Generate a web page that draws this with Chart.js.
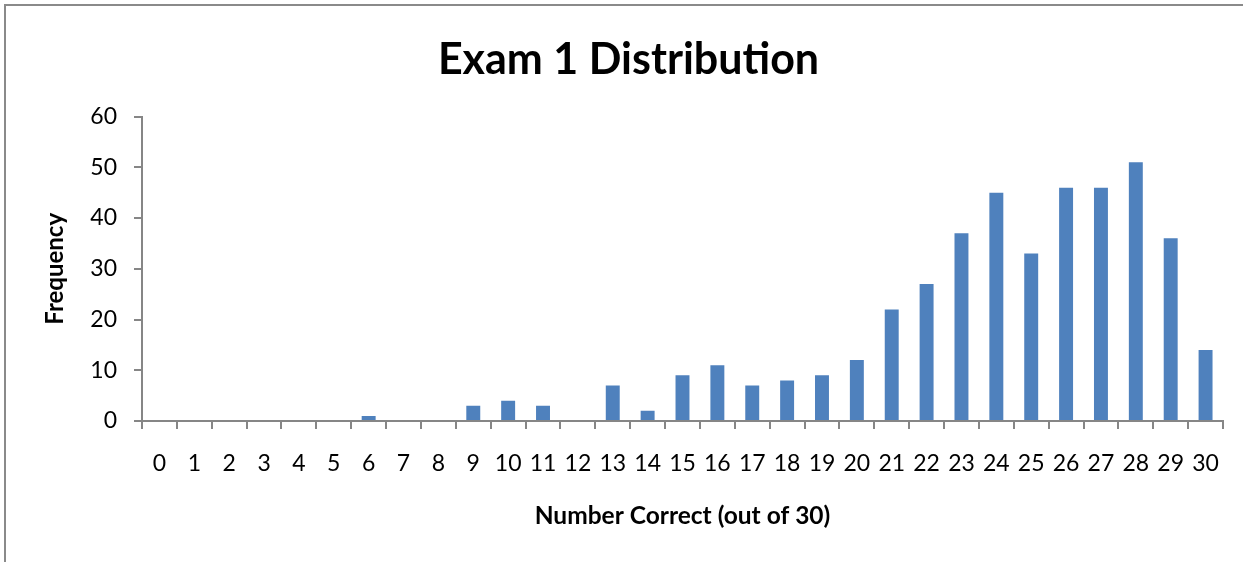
<!DOCTYPE html>
<html>
<head>
<meta charset="utf-8">
<script src="https://cdn.jsdelivr.net/npm/chart.js@4"></script>
<style>
  html, body { margin: 0; padding: 0; background: #fff; overflow: hidden; }
  #frame {
    position: absolute; left: 4px; top: 4px; width: 1300px; height: 600px;
    border-top: 2px solid #8a8a8a; border-left: 2px solid #8a8a8a;
  }
  #wrap { position: absolute; left: 0; top: 0; width: 1243px; height: 562px; }
</style>
</head>
<body>
<div id="frame"></div>
<div id="wrap"><canvas id="examChart" width="1243" height="562"></canvas></div>
<script>
// DATA

const scores = ["0", "1", "2", "3", "4", "5", "6", "7", "8", "9", "10", "11", "12", "13", "14", "15",
  "16", "17", "18", "19", "20", "21", "22", "23", "24", "25", "26", "27", "28", "29", "30"];
const frequency = [0, 0, 0, 0, 0, 0, 1, 0, 0, 3, 4, 3, 0, 7, 2, 9,
  11, 7, 8, 9, 12, 22, 27, 37, 45, 33, 46, 46, 51, 36, 14];
const yTicks = [0, 10, 20, 30, 40, 50, 60];

const axisGray = "#868686";

Chart.defaults.font.family = "Lato, 'Open Sans', sans-serif";
Chart.defaults.color = "#000";

// EXAM CHART

const ctx = document.getElementById("examChart");

new Chart(ctx, {
  type: "bar",
  data: {
    labels: scores,
    datasets: [
      {
        label: "Frequency",
        data: frequency,
        backgroundColor: "#4f81bd",
        borderWidth: 0,
        barPercentage: 0.4,
        categoryPercentage: 1,
      },
    ],
  },
  options: {
    responsive: false,
    animation: false,
    layout: {
      padding: { top: 0, left: 34, right: 20, bottom: 0 },
    },
    plugins: {
      legend: { display: false },
      tooltip: { enabled: false },
      title: {
        display: true,
        text: "Exam 1 Distribution",
        color: "#000",
        font: { size: 43, weight: "bold" },
        padding: { top: 34, bottom: 31 },
      },
    },
    scales: {
      x: {
        offset: true,
        grid: {
          offset: true,
          drawOnChartArea: false,
          drawTicks: true,
          tickLength: 8,
          color: axisGray,
          lineWidth: 2,
        },
        border: { display: true, color: axisGray, width: 2 },
        ticks: {
          autoSkip: false,
          maxRotation: 0,
          padding: 21,
          font: { size: 23 },
          color: "#000",
        },
        title: {
          display: true,
          text: "Number Correct (out of 30)",
          color: "#000",
          font: { size: 24.5, weight: "bold" },
          padding: { top: 0, bottom: 31 },
        },
        afterFit: (scale) => {
          scale.height = 141;
        },
      },
      y: {
        min: yTicks[0],
        max: yTicks[yTicks.length - 1],
        grid: {
          drawOnChartArea: false,
          drawTicks: true,
          tickLength: 8,
          color: axisGray,
          lineWidth: 2,
        },
        border: { display: true, color: axisGray, width: 2 },
        ticks: {
          stepSize: yTicks[1] - yTicks[0],
          padding: 17,
          font: { size: 23 },
          color: "#000",
        },
        title: {
          display: true,
          text: "Frequency",
          color: "#000",
          font: { size: 24, weight: "bold" },
          padding: { top: 7, bottom: 0 },
        },
        afterFit: (scale) => {
          scale.width = 108;
        },
      },
    },
  },
});
</script>
</body>
</html>
